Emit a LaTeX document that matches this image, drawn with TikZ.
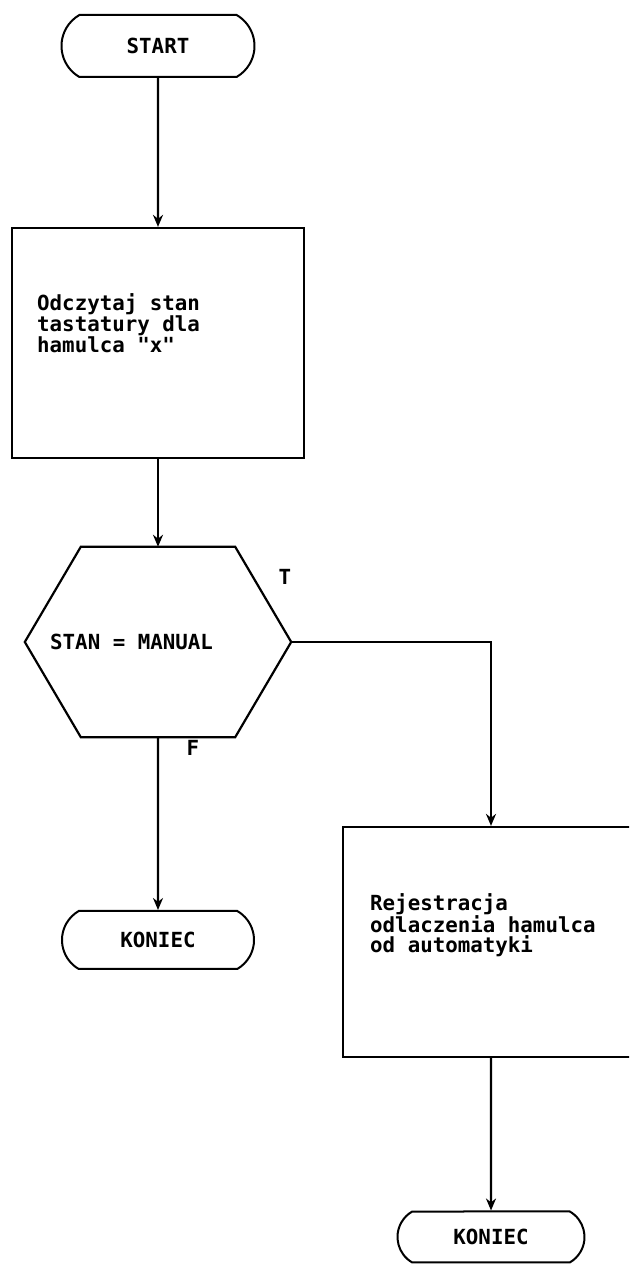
\documentclass[tikz,border=0pt]{standalone}
\usepackage{xcolor}
\usepackage{fontspec}
\setmonofont{DejaVu Sans Mono}
\usetikzlibrary{shapes.geometric, shapes.misc, arrows.meta, positioning, calc}

\tikzset{
    flowfont/.style={font=\ttfamily\bfseries\fontsize{20.8pt}{20pt}\selectfont},
    terminal/.style={draw, line width=2pt, rounded rectangle, rounded rectangle arc length=120,
                     minimum width=192pt, minimum height=58pt, inner sep=0pt, flowfont},
    procbox/.style={draw, line width=2.2pt, minimum width=292pt, minimum height=230pt, inner sep=0pt},
    boxtext/.style={flowfont, anchor=west, align=left, inner sep=0pt},
    flow/.style={line width=2.2pt, -{Stealth[length=12pt, width=10pt]}}
}

\begin{document}
\begin{tikzpicture}[x=1pt, y=1pt]
    \clip (0,0) rectangle (629,1273);

    \node[terminal, minimum width=193pt, minimum height=62pt] (start) at (158,1227) {START};

    \node[procbox] (read) at (158,930) {};
    \node[boxtext] (readtxt) at (37,950) {Odczytaj stan\\tastatury dla\\hamulca "x"};

    \node[minimum width=266pt, minimum height=190pt, inner sep=0pt] (dec) at (158,631) {};
    \draw[line width=2.2pt] ($(dec.north west)+(56,0)$) -- ($(dec.north east)+(-56,0)$) -- (dec.east)
        -- ($(dec.south east)+(-56,0)$) -- ($(dec.south west)+(56,0)$) -- (dec.west) -- cycle;
    \node[boxtext] (dectxt) at (50,631) {STAN = MANUAL};
    \node[flowfont] (yes) at (285,696) {T};
    \node[flowfont] (no) at (193,525) {F};

    \node[terminal] (end1) at (158,333) {KONIEC};

    \node[procbox, minimum width=296pt] (reg) at (491,331) {};
    \node[boxtext] (regtxt) at (370,348) {Rejestracja\\odlaczenia hamulca\\od automatyki};

    \node[terminal, minimum width=187pt, minimum height=51pt] (end2) at (491,36) {KONIEC};

    \draw[flow] (start) -- (read);
    \draw[flow] (read) -- (dec);
    \draw[flow] (dec) -- (end1);
    \draw[flow] (dec.east) -| (reg.north);
    \draw[flow] (reg) -- (end2);
\end{tikzpicture}
\end{document}
